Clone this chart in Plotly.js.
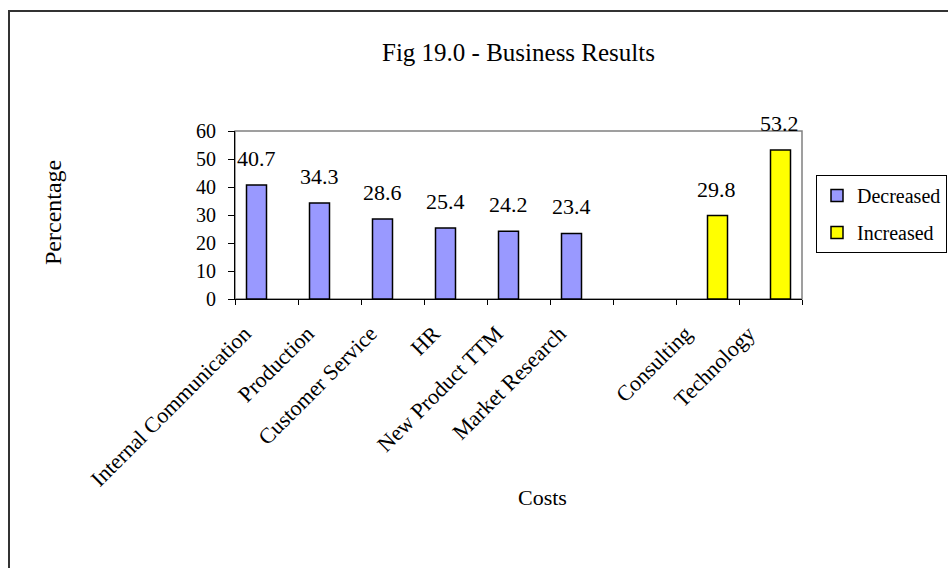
<!DOCTYPE html>
<html>
<head>
<meta charset="utf-8">
<script src="https://cdn.plot.ly/plotly-3.0.1.min.js"></script>
<style>
  html, body { margin: 0; padding: 0; background: #fff; }
  #wrap { position: relative; width: 948px; height: 568px; overflow: hidden; }
  #chart { width: 948px; height: 568px; }
  #frame { position: absolute; left: 8px; top: 10px; width: 1000px; height: 700px;
           border: 2px solid #333; pointer-events: none; box-sizing: border-box; }
</style>
</head>
<body>
<div id="wrap">
  <div id="chart"></div>
  <div id="frame"></div>
</div>
<script>
// ---- data ----
const categories = ["Internal Communication", "Production", "Customer Service", "HR",
                    "New Product TTM", "Market Research", " ", "Consulting", "Technology"];
const decreased = [40.7, 34.3, 28.6, 25.4, 24.2, 23.4, null, null, null];
const increased = [null, null, null, null, null, null, null, 29.8, 53.2];
const seriesNames = ["Decreased", "Increased"];
const yTickVals = [0, 10, 20, 30, 40, 50, 60];
const titleText = "Fig 19.0 - Business Results";
const xTitle = "Costs";
const yTitle = "Percentage";

const FONT = "Liberation Serif, Times New Roman, serif";
const colors = ["#9999FF", "#FFFF00"];

const traces = [decreased, increased].map((vals, i) => ({
  type: "bar",
  name: seriesNames[i],
  legendgroup: seriesNames[i],
  x: categories,
  y: vals,
  marker: { color: colors[i], line: { color: "#000", width: 1.5 } },
  hoverinfo: "x+y"
}));

// value labels above bars
const annotations = [];
[decreased, increased].forEach((vals, i) => {
  vals.forEach((v, j) => {
    if (v === null) return;
    annotations.push({
      x: categories[j], y: v, xref: "x", yref: "y",
      text: v.toFixed(1), showarrow: false,
      xanchor: "center", yanchor: "bottom",
      xshift: i === 0 ? -10 : 9, yshift: 12,
      font: { family: FONT, size: 22, color: "#000" }
    });
  });
});
// axis titles
annotations.push({
  text: yTitle, xref: "paper", yref: "paper",
  x: (53 - 235) / 567, y: (299 - 213) / 168,
  xanchor: "center", yanchor: "middle", textangle: -90, showarrow: false,
  font: { family: FONT, size: 24, color: "#000" }
});
annotations.push({
  text: xTitle, xref: "paper", yref: "paper",
  x: (542 - 235) / 567, y: (299 - 498) / 168,
  xanchor: "center", yanchor: "middle", showarrow: false,
  font: { family: FONT, size: 22, color: "#000" }
});

const layout = {
  width: 948, height: 568,
  margin: { l: 235, r: 146, t: 131, b: 269, autoexpand: false },
  paper_bgcolor: "#fff", plot_bgcolor: "#fff",
  font: { family: FONT, color: "#000" },
  title: {
    text: titleText, xref: "paper", x: 0.5, xanchor: "center",
    yref: "container", y: 1 - 52 / 568, yanchor: "middle",
    font: { family: FONT, size: 25, color: "#000" }
  },
  barmode: "group", bargap: 0.365, bargroupgap: 0,
  showlegend: true,
  legend: {
    x: (816 - 235) / 567, xanchor: "left",
    y: (299 - 175) / 168, yanchor: "top",
    bordercolor: "#000", borderwidth: 1, bgcolor: "#fff",
    traceorder: "grouped", tracegroupgap: 8,
    font: { family: FONT, size: 20, color: "#000" },
    itemwidth: 30
  },
  xaxis: {
    type: "category", categoryorder: "array", categoryarray: categories,
    tickangle: -45, tickson: "boundaries", ticks: "outside", ticklen: 5,
    tickcolor: "#000", showline: true, linecolor: "#000", linewidth: 1,
    showgrid: false, zeroline: false, automargin: false,
    ticklabelstandoff: 12, ticklabelshift: -22,
    tickfont: { family: FONT, size: 22, color: "#000" }
  },
  yaxis: {
    range: [0, 60], tickvals: yTickVals, ticks: "outside", ticklen: 6,
    tickcolor: "#000", showline: true, linecolor: "#000", linewidth: 1,
    showgrid: false, zeroline: false, automargin: false,
    ticklabelstandoff: 8,
    tickfont: { family: FONT, size: 20, color: "#000" }
  },
  shapes: [{
    type: "rect", xref: "paper", yref: "paper", x0: 0, x1: 1, y0: 0, y1: 1,
    line: { color: "#808080", width: 1.5 }, layer: "below"
  }],
  annotations: annotations
};

Plotly.newPlot("chart", traces, layout, { displayModeBar: false, staticPlot: true });
</script>
</body>
</html>
